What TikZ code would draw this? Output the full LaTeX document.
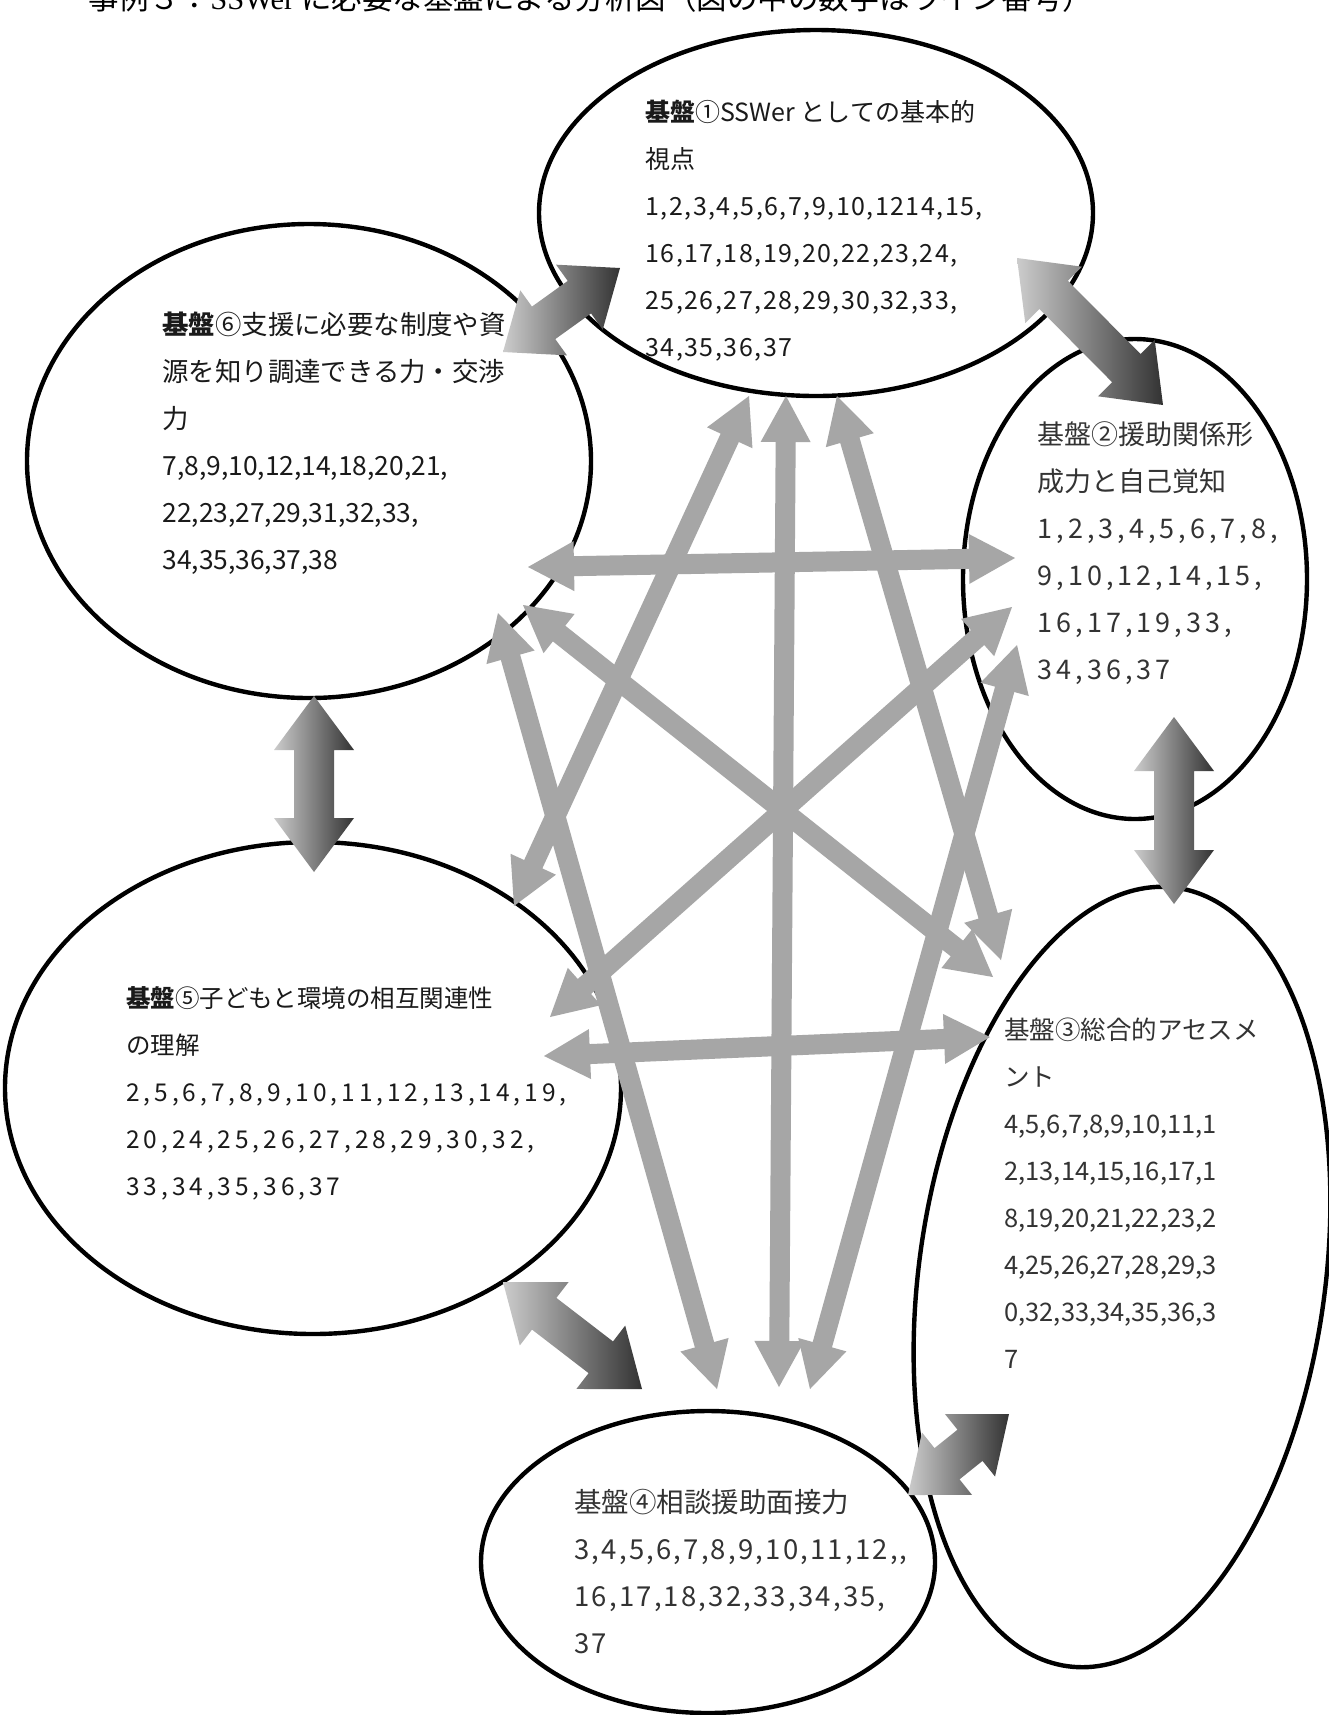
\documentclass[tikz,border=0pt]{standalone}
\usepackage{fontspec}
\setmainfont{Noto Sans CJK JP}
\newfontfamily\latinserif{Liberation Serif}
% number lists set with a little extra tracking
\newfontfamily\numsA{Noto Sans CJK JP}[LetterSpace=6]
\newfontfamily\numsB{Noto Sans CJK JP}[LetterSpace=16]
\newfontfamily\numsC{Noto Sans CJK JP}[LetterSpace=15]
\newfontfamily\numsD{Noto Sans CJK JP}[LetterSpace=8]
\newcommand\na[1]{{\numsA #1}}
\newcommand\nb[1]{{\numsB #1}}
\newcommand\nc[1]{{\numsC #1}}
\newcommand\nd[1]{{\numsD #1}}
\usetikzlibrary{calc,shapes.geometric}

% double-headed block arrow between two named points
% #1,#2 ends; #3 shaft half width; #4 head half width; #5 head length; #6 style
\newcommand\dblarrow[6]{%
  \coordinate (ha) at ($(#1)!#5!(#2)$);
  \coordinate (hb) at ($(#2)!#5!(#1)$);
  \path[#6] (#1) -- ($(ha)!#4!-90:(#2)$) -- ($(ha)!#3!-90:(#2)$)
    -- ($(hb)!#3!90:(#1)$) -- ($(hb)!#4!90:(#1)$) -- (#2)
    -- ($(hb)!#4!-90:(#1)$) -- ($(hb)!#3!-90:(#1)$)
    -- ($(ha)!#3!90:(#2)$) -- ($(ha)!#4!90:(#2)$) -- cycle;
}

\definecolor{linkgray}{HTML}{A6A6A6}
\definecolor{softblack}{HTML}{1A1A1A}
\definecolor{darktext}{HTML}{333333}

\begin{document}
\begin{tikzpicture}[x=0.5pt,y=-0.5pt,
  basis/.style={draw=black, line width=2.2pt, ellipse, inner sep=0pt},
  label/.style={anchor=north west, inner sep=0pt, align=left},
  bigarrow/.style={left color=gray!40, right color=black!80},
  thinarrow/.style={fill=linkgray}
]
\useasboundingbox (0,0) rectangle (1329,1715);
\fill[white] (0,0) rectangle (1329,1715);

% title line
\node[anchor=base west, inner sep=0pt, font=\fontsize{15.25}{17}\selectfont] (title) at (88,9)
  {事例３：{\latinserif SSWer} に必要な基盤による分析図（図の中の数字はライン番号）};

% the six bases
\node[basis, minimum width=277pt, minimum height=183pt] (e1) at (816,213) {};
\node[basis, minimum width=282pt, minimum height=237pt] (e6) at (309,461) {};
\node[basis, minimum width=172pt, minimum height=240pt] (e2) at (1135,579) {};
\node[basis, minimum width=308pt, minimum height=246pt] (e5) at (313,1088) {};
\node[basis, minimum width=203pt, minimum height=393pt, rotate=-8] (e3) at (1122,1277) {};
\node[basis, minimum width=227pt, minimum height=151pt] (e4) at (708,1562) {};

% ends of the shaded arrows between neighbouring bases
\coordinate (A1) at (503,352);  \coordinate (A2) at (620,268);
\coordinate (B1) at (1017,258); \coordinate (B2) at (1163,405);
\coordinate (C1) at (314,696);  \coordinate (C2) at (314,872);
\coordinate (D1) at (1174,717); \coordinate (D2) at (1174,904);
\coordinate (E1) at (503,1282); \coordinate (E2) at (642,1389);
\coordinate (F1) at (908,1495); \coordinate (F2) at (1009,1414);

\dblarrow{A1}{A2}{10pt}{20pt}{25pt}{bigarrow}
\dblarrow{B1}{B2}{10pt}{20pt}{26pt}{bigarrow}
\dblarrow{C1}{C2}{10pt}{20pt}{27pt}{bigarrow}
\dblarrow{D1}{D2}{10pt}{20pt}{27pt}{bigarrow}
\dblarrow{E1}{E2}{10pt}{20pt}{26pt}{bigarrow}
\dblarrow{F1}{F2}{10pt}{20pt}{25pt}{bigarrow}

% ends of the grey cross links
\coordinate (g1a) at (749,396);  \coordinate (g1b) at (514,906);
\coordinate (g2a) at (786,396);  \coordinate (g2b) at (779,1387);
\coordinate (g3a) at (837,396);  \coordinate (g3b) at (1001,960);
\coordinate (g4a) at (528,567);  \coordinate (g4b) at (1015,558);
\coordinate (g5a) at (523,605);  \coordinate (g5b) at (993,977);
\coordinate (g6a) at (498,613);  \coordinate (g6b) at (717,1389);
\coordinate (g7a) at (1012,607); \coordinate (g7b) at (550,1017);
\coordinate (g8a) at (1017,645); \coordinate (g8b) at (810,1389);
\coordinate (g9a) at (544,1056); \coordinate (g9b) at (990,1037);

\foreach \k in {1,...,9}{
  \dblarrow{g\k a}{g\k b}{5pt}{12.5pt}{23pt}{thinarrow}
}

% texts of the bases
\node[label, text=softblack, font=\fontsize{12.5}{23.5}\selectfont] (t1) at (645,100)
  {\textbf{基盤}①SSWer としての基本的\\視点\\\na{1,2,3,4,5,6,7,9,10,1214,15,}\\\na{16,17,18,19,20,22,23,24,}\\\na{25,26,27,28,29,30,32,33,}\\\na{34,35,36,37}};
\node[label, text=softblack, font=\fontsize{13.2}{23.5}\selectfont] (t6) at (162,312)
  {\textbf{基盤}⑥支援に必要な制度や資\\源を知り調達できる力・交渉\\力\\7,8,9,10,12,14,18,20,21,\\22,23,27,29,31,32,33,\\34,35,36,37,38};
\node[label, text=darktext, font=\fontsize{13.5}{23.5}\selectfont] (t2) at (1037,421)
  {基盤②援助関係形\\成力と自己覚知\\\nc{1,2,3,4,5,6,7,8,}\\\nc{9,10,12,14,15,}\\\nc{16,17,19,33,}\\\nc{34,36,37}};
\node[label, text=softblack, font=\fontsize{12.25}{23.5}\selectfont] (t5) at (126,986)
  {\textbf{基盤}⑤子どもと環境の相互関連性\\の理解\\\nb{2,5,6,7,8,9,10,11,12,13,14,19,}\\\nb{20,24,25,26,27,28,29,30,32,}\\\nb{33,34,35,36,37}};
\node[label, text=darktext, font=\fontsize{12.75}{23.5}\selectfont] (t3) at (1004,1018)
  {基盤③総合的アセスメ\\ント\\4,5,6,7,8,9,10,11,1\\2,13,14,15,16,17,1\\8,19,20,21,22,23,2\\4,25,26,27,28,29,3\\0,32,33,34,35,36,3\\7};
\node[label, text=darktext, font=\fontsize{13.75}{23.5}\selectfont] (t4) at (574,1489)
  {基盤④相談援助面接力\\\nd{3,4,5,6,7,8,9,10,11,12,,}\\\nd{16,17,18,32,33,34,35,}\\\nd{37}};
\end{tikzpicture}
\end{document}
